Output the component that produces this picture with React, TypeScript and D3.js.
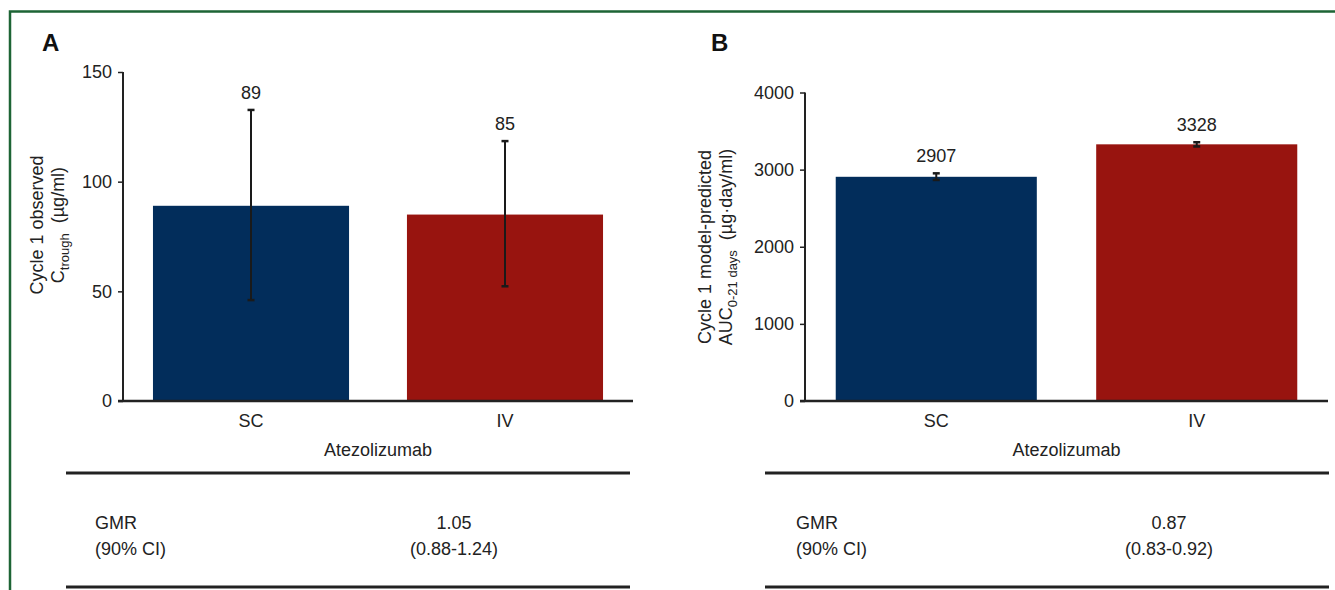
import React, { useEffect, useRef } from "react";
import * as d3 from "d3";

// values
const groups = ["SC", "IV"];
const ctroughMean = [89, 85];
const ctroughLow = [46, 52.3];
const ctroughHigh = [132.7, 118.5];
const ctroughTicks = [0, 50, 100, 150];

const aucMean = [2907, 3328];
const aucLow = [2866, 3300];
const aucHigh = [2952, 3355];
const aucTicks = [0, 1000, 2000, 3000, 4000];

const gmrValues = ["1.05", "0.87"];
const ciValues = ["(0.88-1.24)", "(0.83-0.92)"];

const barColors = ["#022d5b", "#98140f"];
const FONT = "'Liberation Sans', Arial, Helvetica, sans-serif";

type Panel = {
  letter: string;
  letterX: number;
  x0: number;
  x1: number;
  yTop: number;
  yMax: number;
  ticks: number[];
  mean: number[];
  low: number[];
  high: number[];
  title1: string;
  title2: (t: any) => void;
  titleX: number;
  titleY: number;
  tableX0: number;
  tableX1: number;
  gmrX: number;
  valueX: number;
  gmr: string;
  ci: string;
};

function drawPanel(svg: any, p: Panel) {
  const base = 401;
  const g = svg.append("g");

  const x = d3.scaleBand().domain(groups).range([p.x0, p.x1]).paddingInner(0.228).paddingOuter(0.118);
  const y = d3.scaleLinear().domain([0, p.yMax]).range([base, p.yTop]);

  // bars
  g.selectAll("rect.bar")
    .data(groups)
    .enter()
    .append("rect")
    .attr("class", "bar")
    .attr("x", (d: string) => x(d))
    .attr("width", x.bandwidth())
    .attr("y", (d: string, i: number) => y(p.mean[i]))
    .attr("height", (d: string, i: number) => base - y(p.mean[i]))
    .attr("fill", (d: string, i: number) => barColors[i]);

  // error bars
  const cx = (d: string) => (x(d) as number) + x.bandwidth() / 2;
  const err = g.selectAll("g.err").data(groups).enter().append("g").attr("class", "err");
  err.append("line")
    .attr("x1", cx).attr("x2", cx)
    .attr("y1", (d: string, i: number) => y(p.low[i]))
    .attr("y2", (d: string, i: number) => y(p.high[i]))
    .attr("stroke", "#1a1a1a").attr("stroke-width", 2);
  [p.low, p.high].forEach((arr) => {
    err.append("line")
      .attr("x1", (d: string) => cx(d) - 3.5).attr("x2", (d: string) => cx(d) + 3.5)
      .attr("y1", (d: string, i: number) => y(arr[i]))
      .attr("y2", (d: string, i: number) => y(arr[i]))
      .attr("stroke", "#1a1a1a").attr("stroke-width", 2.5);
  });
  err.append("text")
    .attr("x", cx)
    .attr("y", (d: string, i: number) => y(p.high[i]) - 11)
    .attr("text-anchor", "middle")
    .attr("font-size", 18)
    .attr("fill", "#222")
    .text((d: string, i: number) => String(p.mean[i]));

  // y axis
  const yAxis = g.append("g")
    .attr("transform", "translate(" + p.x0 + ",0)")
    .call(d3.axisLeft(y).tickValues(p.ticks).tickSize(5).tickPadding(6).tickFormat(d3.format("d")));
  yAxis.select(".domain").attr("stroke", "#222").attr("stroke-width", 2).attr("d", "M0," + base + "V" + p.yTop);
  yAxis.selectAll(".tick line").attr("stroke", "#222").attr("stroke-width", 1.5);
  yAxis.selectAll(".tick text").attr("font-size", 18).attr("font-family", FONT).attr("fill", "#222");

  // x axis
  const xAxis = g.append("g")
    .attr("transform", "translate(0," + base + ")")
    .call(d3.axisBottom(x).tickSize(0).tickPadding(13));
  xAxis.select(".domain").attr("stroke", "#222").attr("stroke-width", 2.5).attr("d", "M" + (p.x0 - 5) + ",0H" + p.x1);
  xAxis.selectAll(".tick text").attr("font-size", 18).attr("font-family", FONT).attr("fill", "#222");

  g.append("text")
    .attr("x", (p.x0 + p.x1) / 2)
    .attr("y", 456)
    .attr("text-anchor", "middle")
    .attr("font-size", 18)
    .attr("fill", "#222")
    .text("Atezolizumab");

  // y titles
  g.append("text")
    .attr("transform", "translate(" + p.titleX + "," + p.titleY + ") rotate(-90)")
    .attr("text-anchor", "middle")
    .attr("font-size", 18)
    .attr("fill", "#222")
    .text(p.title1);
  const t2 = g.append("text")
    .attr("transform", "translate(" + (p.titleX + 21) + "," + p.titleY + ") rotate(-90)")
    .attr("text-anchor", "middle")
    .attr("font-size", 18)
    .attr("fill", "#222");
  p.title2(t2);

  // panel letter
  g.append("text")
    .attr("x", p.letterX)
    .attr("y", 51)
    .attr("font-size", 24)
    .attr("font-weight", "bold")
    .attr("fill", "#111")
    .text(p.letter);

  // GMR table
  [473, 587].forEach((ly) => {
    g.append("line")
      .attr("x1", p.tableX0).attr("x2", p.tableX1)
      .attr("y1", ly).attr("y2", ly)
      .attr("stroke", "#222").attr("stroke-width", 3);
  });
  g.append("text").attr("x", p.gmrX).attr("y", 529).attr("font-size", 18).attr("fill", "#222").text("GMR");
  g.append("text").attr("x", p.gmrX).attr("y", 555).attr("font-size", 18).attr("fill", "#222").text("(90% CI)");
  g.append("text").attr("x", p.valueX).attr("y", 529).attr("text-anchor", "middle").attr("font-size", 18).attr("fill", "#222").text(p.gmr);
  g.append("text").attr("x", p.valueX).attr("y", 555).attr("text-anchor", "middle").attr("font-size", 18).attr("fill", "#222").text(p.ci);
}

export default function App() {
  const ref = useRef<SVGSVGElement>(null);

  useEffect(() => {
    const svg = d3.select(ref.current);
    svg.selectAll("*").remove();

    // green frame
    svg.append("path")
      .attr("d", "M10,600V11.5H1340")
      .attr("fill", "none")
      .attr("stroke", "#1d6435")
      .attr("stroke-width", 2.5);

    drawPanel(svg, {
      letter: "A", letterX: 42,
      x0: 123, x1: 633, yTop: 72, yMax: 150, ticks: ctroughTicks,
      mean: ctroughMean, low: ctroughLow, high: ctroughHigh,
      title1: "Cycle 1 observed",
      title2: (t: any) => {
        t.append("tspan").text("C");
        t.append("tspan").attr("font-size", 13).attr("dy", 5).text("trough");
        t.append("tspan").attr("dy", -5).text("\u00a0 (\u00b5g/ml)");
      },
      titleX: 43, titleY: 225,
      tableX0: 66, tableX1: 630, gmrX: 95, valueX: 454,
      gmr: gmrValues[0], ci: ciValues[0],
    });

    drawPanel(svg, {
      letter: "B", letterX: 711,
      x0: 805, x1: 1328, yTop: 92.5, yMax: 4000, ticks: aucTicks,
      mean: aucMean, low: aucLow, high: aucHigh,
      title1: "Cycle 1 model-predicted",
      title2: (t: any) => {
        t.append("tspan").text("AUC");
        t.append("tspan").attr("font-size", 13).attr("dy", 5).text("0-21 days");
        t.append("tspan").attr("dy", -5).text("\u00a0 (\u00b5g\u00b7day/ml)");
      },
      titleX: 711, titleY: 247,
      tableX0: 765, tableX1: 1329, gmrX: 796, valueX: 1169,
      gmr: gmrValues[1], ci: ciValues[1],
    });
  }, []);

  return (
    <svg
      ref={ref}
      width={1335}
      height={590}
      style={{ position: "absolute", left: 0, top: 0, background: "#fff", fontFamily: FONT }}
    />
  );
}
